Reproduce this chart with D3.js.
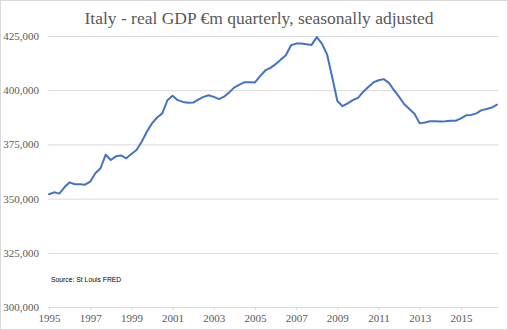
<!DOCTYPE html>
<meta charset="utf-8">
<html>
<head>
<script src="https://d3js.org/d3.v7.min.js"></script>
<style>
  body { margin: 0; background: #fff; }
  svg { display: block; }
</style>
</head>
<body>
<div id="chart"></div>
<script>

// quarterly data, 1995 Q1 .. 2016 Q4 (€m, chained)
var startYear = 1995;
var gdp = [
  352000, 352900, 352300, 355200, 357500, 356600, 356600, 356400,
  357800, 361700, 364000, 370200, 367800, 369500, 369900, 368600,
  370600, 372400, 376200, 380800, 384700, 387400, 389300, 395400,
  397400, 395400, 394600, 394200, 394300, 395700, 396900, 397700,
  396900, 395900, 397000, 399000, 401300, 402600, 403700, 403700,
  403600, 406500, 409100, 410300, 412000, 414100, 416100, 420700,
  421500, 421500, 421200, 420900, 424500, 421500, 416500, 406000,
  395000, 392600, 393900, 395400, 396500, 399200, 401500, 403600,
  404600, 405100, 403400, 400000, 396900, 393500, 391300, 389000,
  384700, 385100, 385700, 385700, 385600, 385700, 385900, 385900,
  387000, 388400, 388600, 389300, 390800, 391300, 392000, 393300
];
var yTicks = [300000, 325000, 350000, 375000, 400000, 425000];
var yearLabels = [1995, 1997, 1999, 2001, 2003, 2005, 2007, 2009, 2011, 2013, 2015];

var W = 508, H = 330;
var margin = {top: 36, right: 10, bottom: 23, left: 48};
var width = W - margin.left - margin.right;
var height = H - margin.top - margin.bottom;

var svg = d3.select("#chart")
  .append("svg")
    .attr("width", W)
    .attr("height", H);

// chart border
svg.append("rect")
  .attr("x", 0.5).attr("y", 0.5)
  .attr("width", W - 1).attr("height", H - 1)
  .attr("fill", "#fff")
  .attr("stroke", "#d9d9d9");

svg.append("text")
  .attr("x", 259)
  .attr("y", 24)
  .attr("text-anchor", "middle")
  .style("font-family", "'Liberation Serif', serif")
  .style("font-size", "17.5px")
  .style("fill", "#595959")
  .text("Italy - real GDP €m quarterly, seasonally adjusted");

var g = svg.append("g")
  .attr("transform", "translate(" + margin.left + "," + margin.top + ")");

var x = d3.scaleLinear()
  .domain([0, gdp.length - 1])
  .range([1, width - 1]);

var y = d3.scaleLinear()
  .domain([300000, 425000])
  .range([height, 0]);

// y axis + gridlines
var yAxis = g.append("g")
  .call(d3.axisLeft(y)
    .tickValues(yTicks)
    .tickFormat(d3.format(","))
    .tickSizeInner(-width)
    .tickSizeOuter(0)
    .tickPadding(9));
yAxis.select(".domain").remove();
yAxis.selectAll(".tick line")
  .attr("stroke", "#d9d9d9");
yAxis.selectAll(".tick text")
  .style("font-family", "'Liberation Serif', serif")
  .style("font-size", "11px")
  .style("fill", "#595959");

// x axis
var xAxis = g.append("g")
  .attr("transform", "translate(0," + height + ")")
  .call(d3.axisBottom(x)
    .tickValues(yearLabels.map(function(yr) { return (yr - startYear) * 4; }))
    .tickFormat(function(i) { return startYear + i / 4; })
    .tickSizeInner(3)
    .tickSizeOuter(0)
    .tickPadding(4));
xAxis.select(".domain")
  .attr("stroke", "#d9d9d9")
  .attr("d", "M0,0.5H" + width);
xAxis.selectAll(".tick line")
  .attr("stroke", "#d9d9d9");
xAxis.selectAll(".tick text")
  .style("font-family", "'Liberation Serif', serif")
  .style("font-size", "11px")
  .style("fill", "#595959");

// the line
var line = d3.line()
  .x(function(d, i) { return x(i); })
  .y(function(d) { return y(d); });

g.append("path")
  .datum(gdp)
  .attr("fill", "none")
  .attr("stroke", "#4472c4")
  .attr("stroke-width", 2)
  .attr("stroke-linejoin", "round")
  .attr("stroke-linecap", "round")
  .attr("d", line);

// source note
svg.append("text")
  .attr("x", 51)
  .attr("y", 282)
  .style("font-family", "'Liberation Sans', Arial, sans-serif")
  .style("font-size", "6.8px")
  .style("fill", "#000")
  .text("Source: St Louis FRED");

</script>
</body>
</html>
